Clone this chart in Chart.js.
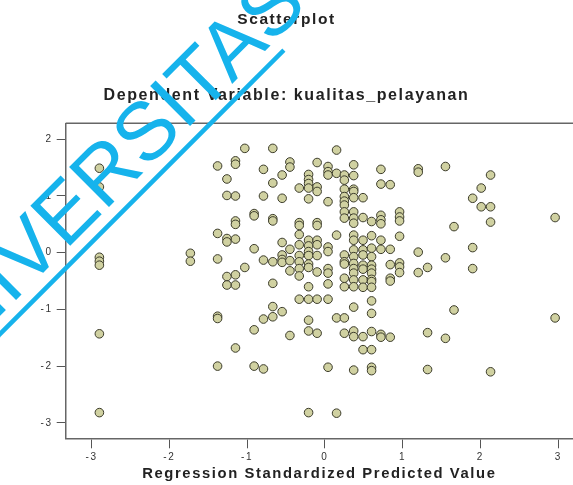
<!DOCTYPE html>
<html>
<head>
<meta charset="utf-8">
<script src="https://cdn.jsdelivr.net/npm/chart.js@4/dist/chart.umd.min.js"></script>
<style>
html,body{margin:0;padding:0;background:#fff;}
#wrap{width:573px;height:485px;}
</style>
</head>
<body>
<div id="wrap"><canvas id="c" width="573" height="485"></canvas></div>
<script>
// ---- text ----
const chartTitle = 'Scatterplot';
const chartSubtitle = 'Dependent Variable: kualitas_pelayanan';
const xAxisTitle = 'Regression Standardized Predicted Value';
const watermarkText = 'UNIVERSITAS';

// ---- tick labels ----
const xTickValues = [-3, -2, -1, 0, 1, 2, 3];
const yTickValues = [-3, -2, -1, 0, 1, 2];

// ---- data: regression standardized predicted value (columns) ----
const predictedColumns = [
  -2.90, -1.73, -1.38, -1.26, -1.15, -1.03, -0.91, -0.79, -0.67, -0.55,
  -0.45, -0.33, -0.21, -0.10, 0.04, 0.15, 0.25, 0.37, 0.49, 0.60,
  0.72, 0.84, 0.96, 1.20, 1.32, 1.55, 1.66, 1.90, 2.01, 2.13, 2.96
];
// ---- data: regression studentized residuals for each predicted column ----
const residualsByColumn = [
  [1.49, 1.16, -0.08, -0.15, -0.22, -1.43, -2.82],
  [-0.01, -0.15],
  [1.53, 0.34, -0.11, -1.12, -1.16, -2.00],
  [1.30, 1.01, 0.25, 0.19, -0.42, -0.57],
  [1.62, 1.56, 1.00, 0.56, 0.50, 0.24, -0.39, -0.57, -1.68],
  [1.84, -0.26],
  [0.69, 0.65, 0.07, -1.36, -2.00],
  [1.47, 1.00, -0.13, -1.17, -2.05],
  [1.84, 1.23, 0.60, 0.56, -0.16, -0.54, -0.95, -1.13],
  [1.37, 0.96, 0.18, -0.04, -0.12, -0.17, -1.04],
  [1.60, 1.51, 0.06, -0.14, -0.32, -1.46],
  [1.14, 0.53, 0.48, 0.32, 0.14, -0.05, -0.16, -0.28, -0.41, -0.82],
  [1.38, 1.29, 1.22, 1.14, 0.95, 0.22, 0.12, 0.02, -0.05, -0.20, -0.26, -0.60, -0.82, -1.19, -1.38, -2.82],
  [1.59, 1.16, 1.08, 0.53, 0.48, 0.22, 0.14, -0.05, -0.34, -0.82, -1.42],
  [1.52, 1.43, 1.37, 0.90, 0.10, 0.02, -0.28, -0.36, -0.55, -0.82, -2.02],
  [1.81, 1.40, 0.31, -1.15, -2.83],
  [1.37, 1.28, 1.12, 0.99, 0.91, 0.84, 0.72, 0.61, -0.04, -0.16, -0.20, -0.45, -0.60, -1.15, -1.42],
  [1.55, 1.36, 1.12, 1.08, 0.97, 0.72, 0.61, 0.52, 0.31, 0.22, 0.05, -0.07, -0.19, -0.28, -0.36, -0.48, -0.60, -0.96, -1.38, -1.48, -2.07],
  [0.97, 0.62, 0.22, 0.05, -0.04, -0.22, -0.29, -0.48, -0.61, -1.48, -1.71],
  [0.55, 0.30, 0.08, -0.07, -0.22, -0.29, -0.36, -0.47, -0.51, -0.61, -0.85, -1.07, -1.39, -1.71, -2.02, -2.08],
  [1.47, 1.21, 0.66, 0.58, 0.51, 0.22, 0.06, -1.44, -1.49],
  [1.20, 0.06, -0.21, -0.45, -0.50, -1.49],
  [0.72, 0.63, 0.56, 0.29, -0.18, -0.25, -0.35],
  [1.48, 1.42, 0.01, -0.35],
  [-0.26, -1.41, -2.06],
  [1.52, -0.09, -1.51],
  [0.46, -1.01],
  [0.96, 0.09, -0.28],
  [1.14, 0.81],
  [1.37, 0.81, 0.54, -2.10],
  [0.62, -1.15]
];

const points = [];
predictedColumns.forEach((px, i) => {
  residualsByColumn[i].forEach(r => points.push({x: px, y: r}));
});

const FONT = '"Liberation Sans", Arial, sans-serif';

const letterSpacingPlugin = {
  id: 'letterSpacing',
  beforeDraw(chart) { chart.ctx.letterSpacing = '1.6px'; }
};

const framePlugin = {
  id: 'frameTop',
  beforeDatasetsDraw(chart) {
    const {ctx, chartArea} = chart;
    ctx.save();
    ctx.strokeStyle = '#666';
    ctx.lineWidth = 1.5;
    ctx.beginPath();
    ctx.moveTo(chartArea.left, chartArea.top);
    ctx.lineTo(chartArea.right, chartArea.top);
    ctx.stroke();
    ctx.restore();
  }
};

const watermarkPlugin = {
  id: 'watermark',
  afterDraw(chart) {
    const c = chart.ctx;
    c.save();
    c.letterSpacing = '0px';
    c.translate(-73, 389);
    c.rotate(-Math.PI / 4);
    c.fillStyle = '#16b3ec';
    c.font = '82px ' + FONT;
    c.textBaseline = 'alphabetic';
    c.textAlign = 'left';
    c.fillText(watermarkText, 0, 0);
    c.strokeStyle = '#16b3ec';
    c.lineWidth = 4.5;
    c.beginPath();
    c.moveTo(-10, 12.7);
    c.lineTo(492, 12.7);
    c.stroke();
    c.restore();
  }
};

new Chart(document.getElementById('c').getContext('2d'), {
  type: 'scatter',
  data: {
    datasets: [{
      data: points,
      pointRadius: 4.3,
      pointHoverRadius: 4.3,
      pointBackgroundColor: '#d0d1a1',
      pointBorderColor: '#3b3b2a',
      pointBorderWidth: 1
    }]
  },
  options: {
    responsive: false,
    animation: false,
    devicePixelRatio: 1,
    layout: { padding: 0, autoPadding: false },
    plugins: {
      legend: { display: false },
      tooltip: { enabled: false },
      title: {
        display: true, text: chartTitle, color: '#222',
        font: { family: FONT, size: 15.5, weight: 'bold' },
        padding: { top: 10.7, bottom: 0 }
      },
      subtitle: {
        display: true, text: chartSubtitle, color: '#222',
        font: { family: FONT, size: 16, weight: 'bold' },
        padding: { top: 56.4, bottom: 18.4 }
      }
    },
    scales: {
      x: {
        type: 'linear', position: 'bottom', min: -3.333, max: 3.19, bounds: 'data',
        afterBuildTicks: s => { s.ticks = xTickValues.map(v => ({ value: v })); },
        afterFit: s => { s.height = 46.7; s.paddingLeft = 0; s.paddingRight = 0; },
        ticks: { font: { family: FONT, size: 10 }, color: '#333', padding: 3, autoSkip: false, maxRotation: 0 },
        grid: { display: true, drawOnChartArea: false, drawTicks: true, tickLength: 10, color: '#555', lineWidth: 1 },
        border: { display: true, color: '#666', width: 1.5 },
        title: {
          display: true, text: xAxisTitle, color: '#222',
          font: { family: FONT, size: 14.8, weight: 'bold' },
          padding: { top: 0, bottom: 1.8 }
        }
      },
      y: {
        type: 'linear', position: 'left', min: -3.273, max: 2.282, bounds: 'data',
        afterBuildTicks: s => { s.ticks = yTickValues.map(v => ({ value: v })); },
        afterFit: s => { s.width = 65.7; s.paddingTop = 0; s.paddingBottom = 0; },
        ticks: { font: { family: FONT, size: 10 }, color: '#333', padding: 4, autoSkip: false },
        grid: { display: true, drawOnChartArea: false, drawTicks: true, tickLength: 9, color: '#555', lineWidth: 1 },
        border: { display: true, color: '#666', width: 1.5 }
      }
    }
  },
  plugins: [letterSpacingPlugin, framePlugin, watermarkPlugin]
});
</script>
</body>
</html>
